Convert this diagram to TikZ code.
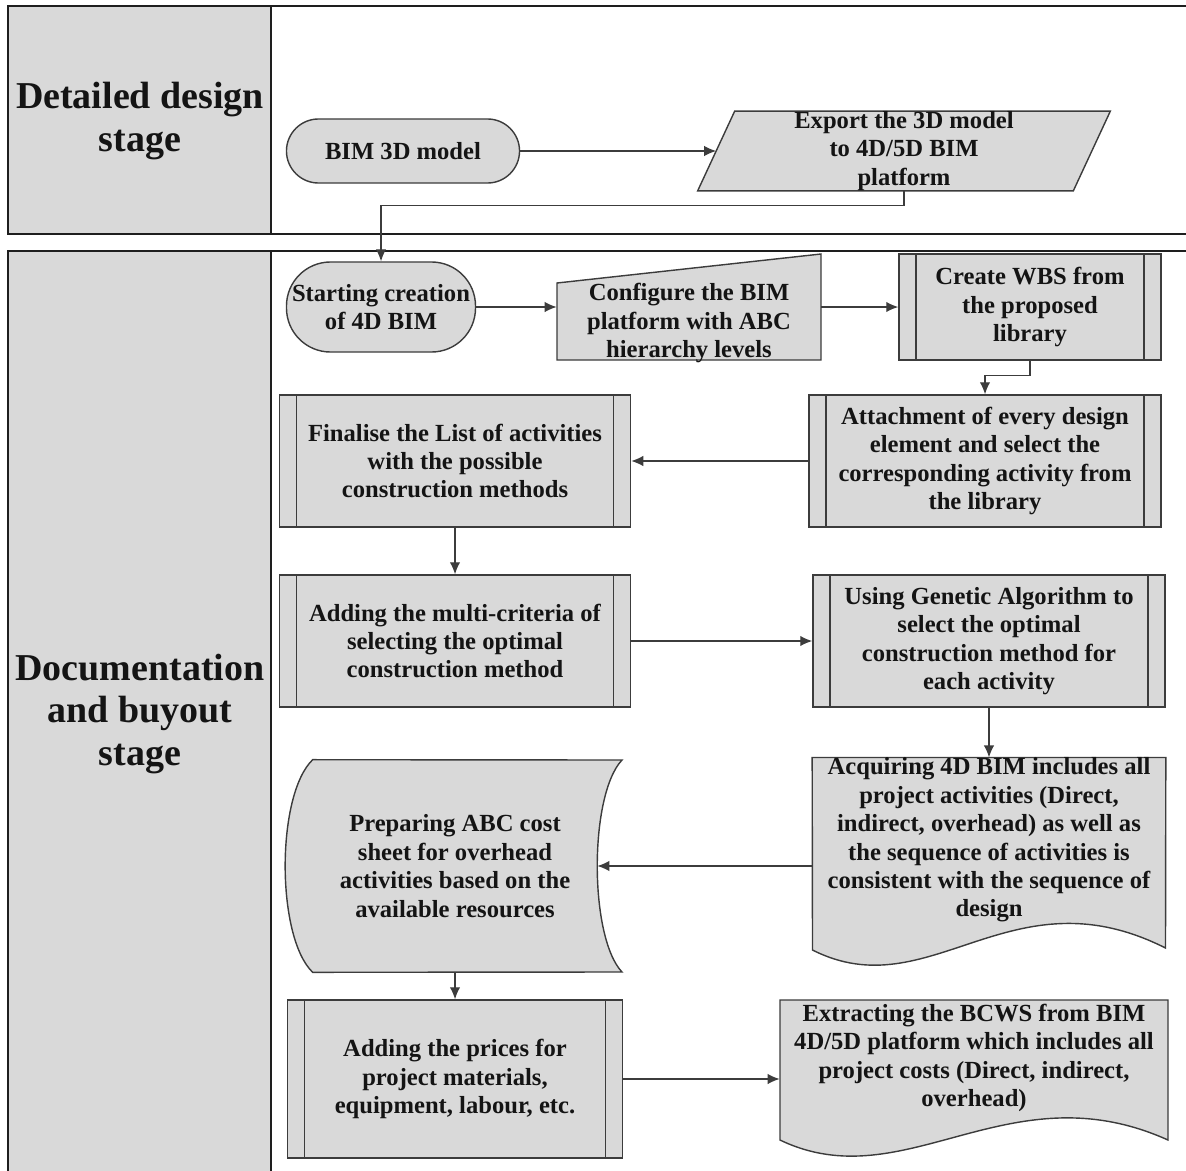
\documentclass[tikz,border=0pt]{standalone}
\usepackage{fontspec}
\setmainfont{Liberation Serif}
\usepackage{tikz}
\usetikzlibrary{arrows.meta, backgrounds}
\definecolor{shapegray}{RGB}{217,217,217}
\definecolor{edgegray}{RGB}{60,60,60}
\definecolor{inkgray}{RGB}{20,20,20}
\definecolor{lanedark}{RGB}{30,30,30}
\newcommand{\flowfont}{\bfseries\fontsize{17.5}{20.2}\selectfont}
\newcommand{\stagefont}{\bfseries\fontsize{27}{30.5}\selectfont}

\begin{document}
\begin{tikzpicture}[
  x=0.025cm, y=-0.025cm,
  every node/.style={font=\flowfont, text=inkgray},
  shapebox/.style={draw=edgegray, fill=shapegray, line width=1pt},
  term/.style={shapebox, rectangle, inner sep=0pt, align=center},
  proc/.style={
    shapebox, rectangle, inner sep=0pt, align=center,
    path picture={
      \draw[edgegray, line width=1pt]
        ([xshift=4.3mm]path picture bounding box.north west) --
        ([xshift=4.3mm]path picture bounding box.south west)
        ([xshift=-4.3mm]path picture bounding box.north east) --
        ([xshift=-4.3mm]path picture bounding box.south east);
    }
  },
  plain/.style={inner sep=0pt, align=center},
  stagelabel/.style={font=\stagefont, align=center, inner sep=0pt},
  lane/.style={draw=lanedark, line width=1.8pt},
  flow/.style={-{Latex[length=3mm, width=2.6mm]}, line width=0.9pt, draw=edgegray}
]
\useasboundingbox (0,0) rectangle (1186,1171);

% stage labels
\node[stagelabel] (design) at (140,121) {Detailed design\\stage};
\node[stagelabel] (buyout) at (140,714) {Documentation\\and buyout\\stage};

% detailed design stage
\node[term, rounded corners=0.8cm, minimum width=5.825cm, minimum height=1.6cm]
  (bim) at (403,151) {BIM 3D model};
\node[plain, minimum width=9.375cm, minimum height=1.95cm]
  (export) at (904,151) {Export the 3D model\\to 4D/5D BIM\\platform};

% documentation and buyout stage
\node[term, rounded corners=1.1cm, minimum width=4.725cm, minimum height=2.25cm]
  (start) at (381,307) {Starting creation\\of 4D BIM};
\node[plain, minimum width=6.6cm] (config) at (689,323)
  {Configure the BIM\\platform with ABC\\hierarchy levels};
\node[proc, minimum width=6.55cm, minimum height=2.65cm]
  (wbs) at (1030,307) {Create WBS from\\the proposed\\library};
\node[proc, minimum width=8.8cm, minimum height=3.3cm]
  (attach) at (985,461) {Attachment of every design\\element and select the\\corresponding activity from\\the library};
\node[proc, minimum width=8.775cm, minimum height=3.3cm]
  (final) at (455,461) {Finalise the List of activities\\with the possible\\construction methods};
\node[proc, minimum width=8.775cm, minimum height=3.3cm]
  (multi) at (455,641) {Adding the multi-criteria of\\selecting the optimal\\construction method};
\node[proc, minimum width=8.8cm, minimum height=3.3cm]
  (ga) at (989,641) {Using Genetic Algorithm to\\select the optimal\\construction method for\\each activity};
\node[plain, minimum width=8.825cm] (acquire) at (989,840)
  {Acquiring 4D BIM includes all\\project activities (Direct,\\indirect, overhead) as well as\\the sequence of activities is\\consistent with the sequence of\\design};
\node[plain, minimum width=7.1cm, minimum height=5.3cm] (prep) at (455,866)
  {Preparing ABC cost\\sheet for overhead\\activities based on the\\available resources};
\node[proc, minimum width=8.375cm, minimum height=3.95cm]
  (prices) at (455,1079) {Adding the prices for\\project materials,\\equipment, labour, etc.};
\node[plain, minimum width=9.7cm] (extract) at (974,1058)
  {Extracting the BCWS from BIM\\4D/5D platform which includes all\\project costs (Direct, indirect,\\overhead)};

% connectors
\draw[flow] (bim.east) -- (export.west);
\draw[flow] (export.south) -- ++(0,15) -| (start.north);
\draw[flow] (start.east) -- (start.east -| config.west);
\draw[flow] (config.east |- wbs.west) -- (wbs.west);
\draw[flow] (wbs.south) -- ++(0,15) -| (attach.north);
\draw[flow] (attach.west) -- (final.east);
\draw[flow] (final.south) -- (multi.north);
\draw[flow] (multi.east) -- (ga.west);
\draw[flow] (ga.south) -- (acquire.north);
\draw[flow] (acquire.west |- prep.east) -- (prep.east);
\draw[flow] (prep.south) -- (prices.north);
\draw[flow] (prices.east) -- (prices.east -| extract.west);

\begin{scope}[on background layer]
  % swimlanes
  \fill[shapegray] (8,6) rectangle (271,234);
  \fill[shapegray] (8,251) rectangle (271,1190);
  \draw[lane] (1190,6) -- (8,6) -- (8,234) -- (1190,234);
  \draw[lane] (1190,251) -- (8,251) -- (8,1190);
  \draw[lanedark, line width=1pt] (271,6) -- (271,234) (271,251) -- (271,1190);
  % data shape
  \draw[shapebox] ([xshift=-0.4625cm]export.south west) -- ([xshift=-0.4625cm]export.south east)
    -- ([xshift=0.4625cm]export.north east) -- ([xshift=0.4625cm]export.north west) -- cycle;
  % manual input
  \draw[shapebox] ([shift={(-132,37)}]config.center) -- ([shift={(132,37)}]config.center)
    -- ([shift={(132,-69)}]config.center) -- ([shift={(-132,-40)}]config.center) -- cycle;
  % documents
  \draw[shapebox] (acquire.north west) -- (acquire.north east)
    -- ([shift={(176.5,108)}]acquire.center)
    .. controls ([shift={(21,29.5)}]acquire.center) and ([shift={(-59,169.5)}]acquire.center)
    .. ([shift={(-176.5,110)}]acquire.center) -- cycle;
  \draw[shapebox] ([shift={(-194,-58)}]extract.center) -- ([shift={(194,-58)}]extract.center)
    -- ([shift={(194,82)}]extract.center)
    .. controls ([shift={(34,10)}]extract.center) and ([shift={(-69,142)}]extract.center)
    .. ([shift={(-194,82)}]extract.center) -- cycle;
  % stored data
  \draw[shapebox] (prep.north west) -- ([shift={(167,-106)}]prep.center)
    .. controls ([shift={(134,-71)}]prep.center) and ([shift={(134,71)}]prep.center)
    .. ([shift={(167,106)}]prep.center) -- (prep.south west)
    .. controls ([shift={(-179,71)}]prep.center) and ([shift={(-179,-71)}]prep.center)
    .. (prep.north west) -- cycle;
\end{scope}
\end{tikzpicture}
\end{document}
